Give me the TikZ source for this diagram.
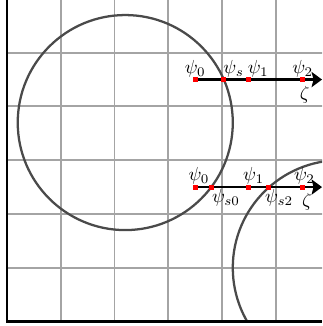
\documentclass[tikz,border=0pt]{standalone}
\usetikzlibrary{arrows.meta}
\definecolor{ink}{HTML}{000000}
\definecolor{gridgray}{HTML}{A4A4A4}
\definecolor{rimgray}{HTML}{4A4A4A}
\definecolor{dotred}{HTML}{FF0000}

\tikzset{
  pt/.style={fill=dotred,inner sep=0pt,minimum size=2.6pt},
  lbl/.style={inner sep=1.2pt},
  ray/.style={->,ink,line width=1.2pt}
}

\begin{document}
\begin{tikzpicture}[x=1cm,y=1cm,>={Stealth[length=5.5pt,width=8pt,inset=1pt]},font=\normalsize]
  \useasboundingbox (-0.13,-0.084) rectangle (5.86,5.98);
  % grid and circles, cut to the plot area
  \begin{scope}
    \clip (0,0) rectangle (5.86,5.98);
    \draw[gridgray,line width=1pt] (0,0) grid (6,6);
    \draw[rimgray,line width=1.2pt] (2.2,3.7) circle (2);
    \draw[rimgray,line width=1.2pt] (6.2,1) circle (2);
  \end{scope}
  % frame
  \draw[ink,line width=1.3pt] (0,5.98) -- (0,0) -- (5.86,0);
  % upper ray
  \coordinate (u0) at (3.5,4.5);
  \coordinate (uend) at (5.86,4.5);
  \draw[ray] (u0) -- (uend);
  \node[pt] (ud0) at (u0) {};
  \node[pt] (uds) at (4.03,4.5) {};
  \node[pt] (ud1) at (4.5,4.5) {};
  \node[pt] (ud2) at (5.5,4.5) {};
  \node[lbl,above] (lu0) at (ud0) {$\psi_0$};
  \node[lbl,anchor=south west,xshift=-1.5pt] (lus) at (uds) {$\psi_s$};
  \node[lbl,anchor=south west,xshift=-2pt] (lu1) at (ud1) {$\psi_1$};
  \node[lbl,above] (lu2) at (ud2) {$\psi_2$};
  \node[lbl,below,yshift=-2pt] (luz) at (5.54,4.5) {$\zeta$};
  % lower ray
  \coordinate (d0) at (3.5,2.5);
  \coordinate (dend) at (5.86,2.5);
  \draw[ray] (d0) -- (dend);
  \node[pt] (dd0) at (d0) {};
  \node[pt] (dds0) at (3.8,2.5) {};
  \node[pt] (dd1) at (4.5,2.5) {};
  \node[pt] (dds2) at (4.86,2.5) {};
  \node[pt] (dd2) at (5.5,2.5) {};
  \node[lbl,above,xshift=2pt] (ld0) at (dd0) {$\psi_0$};
  \node[lbl,anchor=north west,xshift=-1pt] (lds0) at (dds0) {$\psi_{s0}$};
  \node[lbl,above,xshift=2.5pt] (ld1) at (dd1) {$\psi_1$};
  \node[lbl,anchor=north west,xshift=-3pt] (lds2) at (dds2) {$\psi_{s2}$};
  \node[lbl,above,xshift=1pt] (ld2) at (dd2) {$\psi_2$};
  \node[lbl,below,yshift=-2pt] (ldz) at (5.58,2.5) {$\zeta$};
\end{tikzpicture}
\end{document}
